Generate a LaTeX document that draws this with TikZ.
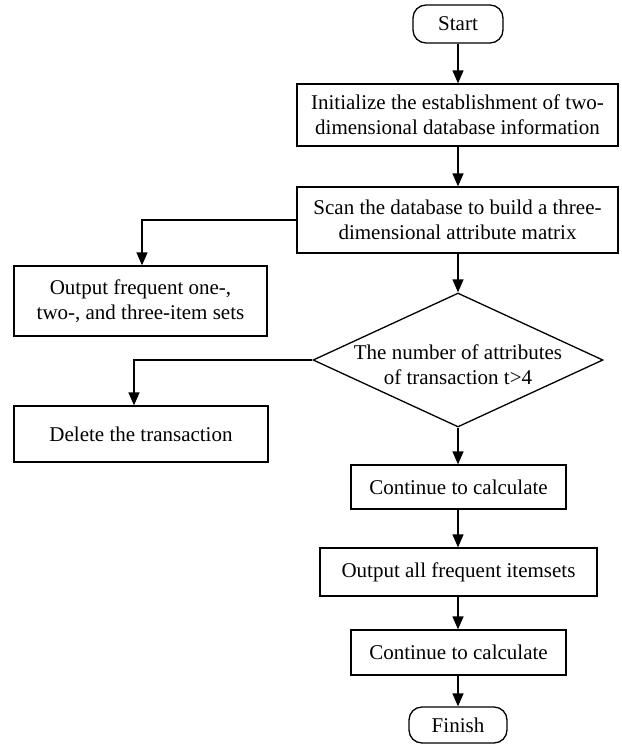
\documentclass[tikz,border=0pt]{standalone}
\usepackage{fontspec}
\setmainfont{Liberation Serif}
\usetikzlibrary{arrows.meta,shapes.geometric}
\begin{document}
\begin{tikzpicture}[x=1pt,y=-1pt,
  every node/.style={font=\fontsize{21}{25}\selectfont},
  procbox/.style={draw,line width=1.3pt,inner sep=0pt,align=center},
  termbox/.style={draw,line width=1.3pt,inner sep=0pt,rounded corners=13pt,align=center},
  decision/.style={draw,diamond,line width=1.3pt,inner sep=0pt},
  flow/.style={line width=1.3pt,-{Triangle[length=13pt,width=11pt]}}]
\useasboundingbox (0,0) rectangle (621,744);
\node[termbox,minimum width=90pt,minimum height=38pt] (start) at (458,24) {Start};
\node[procbox,minimum width=321pt,minimum height=62pt] (init) at (457.5,115)
  {Initialize the establishment of two-\\dimensional database information};
\node[procbox,minimum width=321pt,minimum height=66pt] (scan) at (457.5,220)
  {Scan the database to build a three-\\dimensional attribute matrix};
\node[procbox,minimum width=253pt,minimum height=70pt] (outfreq) at (140.5,301)
  {Output frequent one-,\\two-, and three-item sets};
\node[decision,minimum width=290pt,minimum height=134pt] (dec) at (458,360) {};
\node[align=center] (dectext) at (458,365) {The number of attributes\\of transaction t>4};
\node[procbox,minimum width=254pt,minimum height=56pt] (del) at (141,434) {Delete the transaction};
\node[procbox,minimum width=215pt,minimum height=44pt] (cont1) at (458.5,487) {Continue to calculate};
\node[procbox,minimum width=277pt,minimum height=48pt] (outall) at (458.5,572) {Output all frequent itemsets};
\node[procbox,minimum width=215pt,minimum height=45pt] (cont2) at (458.5,652.5) {Continue to calculate};
\node[termbox,minimum width=98pt,minimum height=36pt] (finish) at (458,725) {Finish};
\coordinate (c1) at (142,220);
\coordinate (c2) at (134,360);
\draw[flow] (start.south) -- (init.north -| start.south);
\draw[flow] (init.south -| start.south) -- (scan.north -| start.south);
\draw[flow] (scan.west |- c1) -- (c1) -- (outfreq.north -| c1);
\draw[flow] (scan.south -| dec.north) -- (dec.north);
\draw[flow] (dec.west) -- (c2) -- (del.north -| c2);
\draw[flow] (dec.south) -- (cont1.north -| dec.south);
\draw[flow] (cont1.south -| dec.south) -- (outall.north -| dec.south);
\draw[flow] (outall.south -| dec.south) -- (cont2.north -| dec.south);
\draw[flow] (cont2.south -| dec.south) -- (finish.north);
\end{tikzpicture}
\end{document}
